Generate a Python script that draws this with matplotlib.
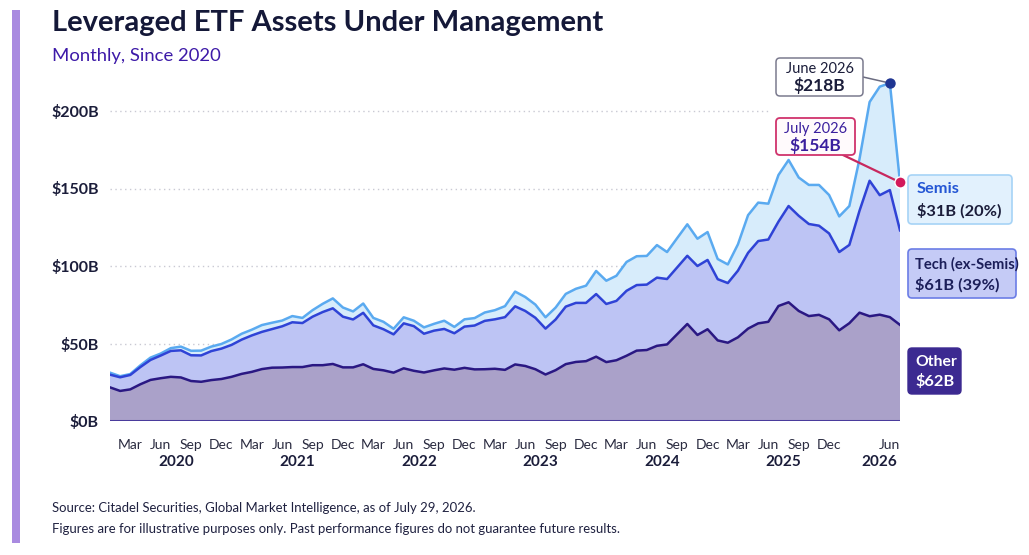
import numpy as np
import matplotlib
matplotlib.use("Agg")
import matplotlib.pyplot as plt
from matplotlib.patches import FancyBboxPatch, Rectangle
from matplotlib.transforms import IdentityTransform, blended_transform_factory

plt.rcParams['font.family'] = ['Lato', 'DejaVu Sans']

# ---- data (USD billions, monthly Jan 2020 .. Jul 2026) ----
months = [f"{y}-{m:02d}" for y in range(2020, 2027) for m in range(1, 13)][:79]

other = [21.7, 19.4, 20.4, 23.7, 26.5, 27.6, 28.5, 28.1, 25.8, 25.3, 26.4, 27.1,
         28.5, 30.4, 31.7, 33.5, 34.4, 34.5, 34.8, 34.8, 36.0, 36.0, 36.8, 34.6,
         34.6, 36.6, 33.6, 32.7, 31.2, 34.0, 32.4, 31.3, 32.7, 33.9, 33.1, 34.3,
         33.3, 33.4, 33.7, 33.0, 36.5, 35.5, 33.4, 30.0, 32.8, 36.7, 38.1, 38.6,
         41.5, 38.0, 39.2, 42.1, 45.4, 45.8, 48.5, 49.4, 56.0, 62.6, 55.5, 59.2,
         52.0, 50.5, 54.0, 59.6, 63.0, 64.0, 74.2, 76.6, 71.0, 67.7, 68.5, 65.6,
         58.5, 63.1, 69.9, 67.6, 68.6, 67.0, 62.0]

tech = [8.2, 8.8, 9.3, 11.1, 12.9, 14.6, 16.7, 17.5, 16.6, 17.0, 18.7, 19.6,
        20.6, 22.1, 23.5, 24.0, 24.9, 26.6, 28.9, 28.4, 31.3, 34.3, 35.9, 32.7,
        30.9, 33.2, 28.1, 26.5, 24.7, 29.0, 28.8, 25.0, 25.6, 25.5, 23.5, 26.6,
        28.3, 31.2, 31.9, 34.0, 37.5, 35.5, 33.2, 29.6, 32.7, 37.1, 38.1, 37.6,
        40.4, 37.5, 38.3, 41.9, 42.3, 42.2, 44.0, 42.2, 43.1, 44.0, 44.5, 44.7,
        39.5, 38.5, 43.0, 48.9, 53.1, 53.1, 54.4, 62.1, 61.4, 59.4, 57.5, 55.4,
        50.5, 50.5, 65.7, 87.4, 77.1, 82.0, 61.0]

semis = [1.3, 0.7, 0.6, 1.1, 1.5, 1.3, 1.8, 2.4, 2.9, 3.1, 2.9, 3.0,
         3.5, 3.8, 3.7, 4.4, 4.1, 3.7, 4.0, 3.3, 4.2, 5.3, 6.4, 5.9,
         5.2, 6.0, 4.8, 4.8, 3.6, 3.9, 3.5, 4.1, 4.4, 5.3, 4.1, 4.7,
         4.8, 5.4, 5.9, 7.1, 9.5, 9.0, 8.5, 7.3, 7.7, 8.2, 9.1, 11.1,
         14.9, 15.0, 16.2, 18.6, 18.6, 18.5, 21.0, 17.4, 18.9, 20.3, 17.6, 18.0,
         13.0, 12.0, 17.0, 24.3, 24.8, 23.1, 30.1, 29.7, 24.7, 25.2, 26.3, 24.8,
         23.0, 25.1, 33.4, 50.8, 70.0, 69.0, 31.0]

series_names = ["Other", "Tech (ex-Semis)", "Semis"]
series_labels = ["$62B", "$61B (39%)", "$31B (20%)"]
yticks = [0, 50, 100, 150, 200]
ytick_labels = ["$0B", "$50B", "$100B", "$150B", "$200B"]
month_names = {3: "Mar", 6: "Jun", 9: "Sep", 12: "Dec"}
years = ["2020", "2021", "2022", "2023", "2024", "2025", "2026"]
callouts = [("2026-06", "June 2026", "$218B"), ("2026-07", "July 2026", "$154B")]

# ---- figure ----
W, H = 1029, 555
fig = plt.figure(figsize=(W / 100, H / 100), dpi=100)
fig.patch.set_facecolor("white")

def fx(x):
    return x / W

def fy(y):
    return 1 - y / H

ax = fig.add_axes([fx(110), fy(421), fx(900) - fx(110), fy(64.5) - fy(421)])
x = np.arange(len(months))
other_a = np.array(other)
tech_a = np.array(tech)
semis_a = np.array(semis)
lvl1 = other_a
lvl2 = other_a + tech_a
lvl3 = lvl2 + semis_a

# grid lines (dotted)
ax.hlines([50, 100, 150, 200], 0, 65, colors="#c9c9d3", linestyles=(0, (1, 2.5)), linewidth=1.0, zorder=0)

ax.stackplot(x, other_a, tech_a, semis_a,
             colors=["#aaa1c9", "#bdc4f4", "#d7ecfb"], linewidth=0, zorder=1)
ax.plot(x, lvl3, color="#5aaaf0", lw=1.8, zorder=3)
ax.plot(x, lvl2, color="#2f43d6", lw=1.8, zorder=3)
ax.plot(x, lvl1, color="#2a1883", lw=1.8, zorder=3)
ax.axhline(0, color="#4a3b9c", lw=2.2, zorder=4)

ax.set_xlim(0, len(months) - 1)
ax.set_ylim(0, 230)
for s in ax.spines.values():
    s.set_visible(False)
ax.set_facecolor("none")

ax.set_yticks(yticks)
ax.set_yticklabels(ytick_labels, fontsize=11.5, fontweight="bold", color="#1b1d3a")
ax.tick_params(axis="y", length=0, pad=8)

tick_pos, tick_lab = [], []
for i, m in enumerate(months):
    mm = int(m[5:])
    if mm in month_names and m != "2026-03":
        tick_pos.append(i)
        tick_lab.append(month_names[mm])
ax.set_xticks(tick_pos)
ax.set_xticklabels(tick_lab, fontsize=10, color="#2a2b40")
ax.tick_params(axis="x", length=0, pad=13)

trans = blended_transform_factory(ax.transData, fig.transFigure)
for yr in years:
    pos = [p for p in tick_pos if months[p].startswith(yr)]
    xc = (min(pos) + max(pos)) / 2 if yr != "2026" else 76
    ax.text(xc, fy(462), yr, transform=trans, ha="center", va="center",
            fontsize=11, fontweight="bold", color="#1b1d3a")

# ---- annotations ----
def box(x0, y0, x1, y1, fc, ec, lw=1.2, r=4):
    p = FancyBboxPatch((x0, H - y1), x1 - x0, y1 - y0,
                       boxstyle=f"round,pad=0,rounding_size={r}",
                       transform=IdentityTransform(), fc=fc, ec=ec, lw=lw, zorder=10)
    fig.add_artist(p)

idx_jun = months.index(callouts[0][0])
idx_jul = months.index(callouts[1][0])

ax.annotate("", xy=(idx_jun, lvl3[idx_jun]), xytext=(fx(863), fy(77)), textcoords="figure fraction",
            arrowprops=dict(arrowstyle="-", color="#6b6c80", lw=1.1, shrinkA=0, shrinkB=0),
            annotation_clip=False, zorder=6)
ax.annotate("", xy=(idx_jul, lvl3[idx_jul]), xytext=(fx(843), fy(155)), textcoords="figure fraction",
            arrowprops=dict(arrowstyle="-", color="#c8285e", lw=1.6, shrinkA=0, shrinkB=0),
            annotation_clip=False, zorder=6)
ax.plot([idx_jun], [lvl3[idx_jun]], "o", ms=6.5, color="#1f3592", zorder=8, clip_on=False)
ax.plot([idx_jul], [lvl3[idx_jul]], "o", ms=8, color="#d31a5b", mec="white", mew=1.0, zorder=8, clip_on=False)

box(776, 58, 863, 96, "white", "#7a7a8e", lw=1.1)
fig.text(fx(819.5), fy(69), callouts[0][1], ha="center", va="center", fontsize=10.5, color="#1b1d3a", zorder=11)
fig.text(fx(819.5), fy(85.5), callouts[0][2], ha="center", va="center", fontsize=12.5,
         fontweight="bold", color="#1b1d3a", zorder=11)

box(776, 118, 855, 155, "#fffafc", "#d0336c", lw=1.3)
fig.text(fx(815.5), fy(129), callouts[1][1], ha="center", va="center", fontsize=10.5, color="#3a1f9e", zorder=11)
fig.text(fx(815.5), fy(146), callouts[1][2], ha="center", va="center", fontsize=12.5,
         fontweight="bold", color="#3a1f9e", zorder=11)

box(908, 175, 1012, 224, "#e2f1fd", "#a6d3f6", lw=1.2)
fig.text(fx(917), fy(189), series_names[2], ha="left", va="center", fontsize=11.8, fontweight="bold",
         color="#2456d4", zorder=11)
fig.text(fx(917), fy(211), series_labels[2], ha="left", va="center",
         fontsize=11.8, fontweight="bold", color="#1b1d3a", zorder=11)

box(908, 249, 1016, 298, "#c5cbf6", "#6b7de6", lw=1.2)
fig.text(fx(915), fy(264), series_names[1], ha="left", va="center", fontsize=10.6, fontweight="bold",
         color="#1c1f5a", zorder=11)
fig.text(fx(915), fy(285), series_labels[1], ha="left", va="center",
         fontsize=11.8, fontweight="bold", color="#1c1f5a", zorder=11)

box(908, 348, 961, 394, "#3c2a91", "#3c2a91", lw=1.0)
fig.text(fx(915), fy(362), series_names[0], ha="left", va="center", fontsize=11.3, fontweight="bold",
         color="white", zorder=11)
fig.text(fx(915), fy(382), series_labels[0], ha="left", va="center", fontsize=11.8, fontweight="bold",
         color="white", zorder=11)

# ---- titles, footer, side bar ----
fig.add_artist(Rectangle((12, H - 543), 8, 533, transform=IdentityTransform(),
                         fc="#a98ae0", ec="none"))
fig.text(fx(52), fy(23), "Leveraged ETF Assets Under Management", ha="left", va="center",
         fontsize=21, fontweight="bold", color="#141838")
fig.text(fx(52), fy(56), "Monthly, Since 2020", ha="left", va="center", fontsize=13.3, color="#3d1aa8")
fig.text(fx(52), fy(508), "Source: Citadel Securities, Global Market Intelligence, as of July 29, 2026.",
         ha="left", va="center", fontsize=9.45, color="#1f2140")
fig.text(fx(52), fy(529), "Figures are for illustrative purposes only. Past performance figures do not guarantee future results.",
         ha="left", va="center", fontsize=9.45, color="#1f2140")

fig.savefig("out.png", dpi=100)
